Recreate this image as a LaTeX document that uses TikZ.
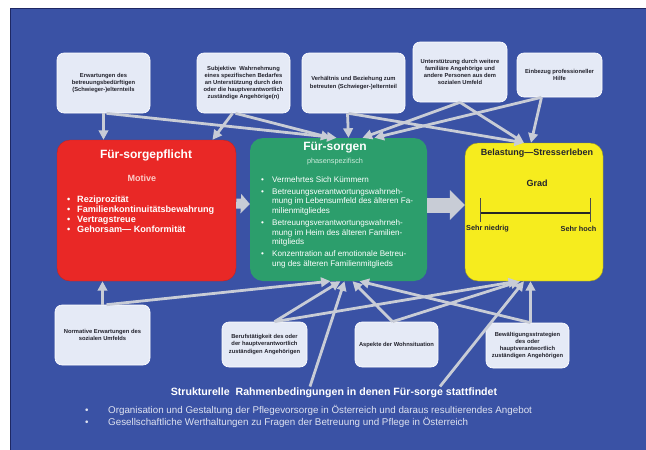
\documentclass[tikz,border=0pt]{standalone}
\usepackage{fontspec}
\setmainfont{Liberation Sans}
\usetikzlibrary{arrows.meta}
\definecolor{bgblue}{RGB}{58,82,165}
\definecolor{bgdark}{RGB}{30,40,100}
\definecolor{boxfill}{RGB}{229,234,246}
\definecolor{connc}{RGB}{200,204,214}
\definecolor{redbox}{RGB}{233,40,38}
\definecolor{greenbox}{RGB}{44,158,108}
\definecolor{yellowbox}{RGB}{246,236,30}
\definecolor{darktext}{RGB}{35,35,45}
\definecolor{bottomtext}{RGB}{222,226,240}
\begin{document}
\begin{tikzpicture}[x=1pt,y=-1pt,
  smallbox/.style={draw=white, line width=0.6pt, fill=boxfill, rounded corners=7pt, align=center,
    font=\bfseries\fontsize{5.8}{7.2}\selectfont, text=darktext, inner sep=1pt},
  mainbox/.style={rounded corners=13pt, inner sep=0pt},
  conn/.style={draw=connc, line width=2.8pt, -{Triangle[width=9.5pt,length=9.5pt]}}
]
\useasboundingbox (0,0) rectangle (646,450);
\fill[white] (0,0) rectangle (646,450);
\fill[bgblue] (10,8) rectangle (646,450);
\draw[bgdark, line width=1pt] (10,450) -- (10,8) -- (646,8);

% top boxes
\node[smallbox, minimum width=93pt, minimum height=60pt] (t1) at (103.5,83)
  {Erwartungen des\\betreuungsbedürftigen\\(Schwieger-)elternteils};
\node[smallbox, minimum width=93pt, minimum height=60pt] (t2) at (243.5,83)
  {Subjektive\ \ Wahrnehmung\\eines spezifischen Bedarfes\\an Unterstützung durch den\\oder die hauptverantwortlich\\zuständige Angehörige(n)};
\node[smallbox, minimum width=103pt, minimum height=60pt] (t3) at (353.5,83)
  {Verhältnis und Beziehung zum\\betreuten (Schwieger-)elternteil};
\node[smallbox, minimum width=94pt, minimum height=60pt] (t4) at (460,72)
  {Unterstützung durch weitere\\familiäre Angehörige und\\andere Personen aus dem\\sozialen Umfeld};
\node[smallbox, minimum width=85pt, minimum height=44pt] (t5) at (559.5,75)
  {Einbezug professioneller\\Hilfe};

% main boxes
\node[mainbox, fill=redbox, draw=redbox!85!black, minimum width=179pt, minimum height=141pt] (red) at (146.5,210.5) {};
\node[mainbox, fill=greenbox, minimum width=177pt, minimum height=143pt] (green) at (338.5,209.5) {};
\node[mainbox, fill=yellowbox, draw=yellowbox!70!black, minimum width=138pt, minimum height=138pt] (yellow) at (534,212) {};

% red content
\node[text=white, font=\bfseries\fontsize{12}{14}\selectfont] (redtitle) at (146,155.5) {Für-sorgepflicht};
\node[text={rgb,255:red,252;green,205;blue,200}, font=\bfseries\fontsize{9}{11}\selectfont] (motive) at (142,178) {Motive};
\node[text=white, font=\bfseries\fontsize{9.1}{10}\selectfont, align=left, anchor=north west, inner sep=0pt] (redlist) at (67,195.5)
  {\makebox[10pt][l]{\textbullet}Reziprozität\\
   \makebox[10pt][l]{\textbullet}Familienkontinuitätsbewahrung\\
   \makebox[10pt][l]{\textbullet}Vertragstreue\\
   \makebox[10pt][l]{\textbullet}Gehorsam— Konformität};

% green content
\node[text=white, font=\bfseries\fontsize{12}{14}\selectfont] (greentitle) at (335,148) {Für-sorgen};
\node[text={rgb,255:red,205;green,235;blue,220}, font=\fontsize{7.3}{8}\selectfont] (phase) at (335,162) {phasenspezifisch};
\node[text=white, font=\fontsize{8.1}{9.7}\selectfont, align=left, anchor=north west, inner sep=0pt] (greenlist) at (261,176)
  {\makebox[11pt][l]{\textbullet}Vermehrtes Sich Kümmern\\[2.3pt]
   \makebox[11pt][l]{\textbullet}Betreuungsverantwortungswahrneh-\\
   \hspace*{11pt}mung im Lebensumfeld des älteren Fa-\\
   \hspace*{11pt}milienmitgliedes\\[2.3pt]
   \makebox[11pt][l]{\textbullet}Betreuungsverantwortungswahrneh-\\
   \hspace*{11pt}mung im Heim des älteren Familien-\\
   \hspace*{11pt}mitglieds\\[2.3pt]
   \makebox[11pt][l]{\textbullet}Konzentration auf emotionale Betreu-\\
   \hspace*{11pt}ung des älteren Familienmitglieds};

% yellow content
\node[text=darktext, font=\bfseries\fontsize{9}{11}\selectfont] (ytitle) at (537,153) {Belastung—Stresserleben};
\node[text=darktext, font=\bfseries\fontsize{9}{11}\selectfont] (grad) at (537,183) {Grad};
\coordinate (sl) at (480,213);
\coordinate (sr) at (590,213);
\draw[black!85, line width=2pt] (sl) -- (sr);
\draw[black!70, line width=0.7pt] (480,198) -- (480,222);
\draw[black!70, line width=0.7pt] (590,198) -- (590,222);
\node[text=darktext, font=\bfseries\fontsize{7.3}{9}\selectfont] (low) at (487.5,228.5) {Sehr niedrig};
\node[text=darktext, font=\bfseries\fontsize{7.3}{9}\selectfont] (high) at (578.5,228.5) {Sehr hoch};

% block arrows
\draw[connc, line width=10pt, -{Triangle[width=19pt,length=9pt]}] ([yshift=7pt]red.east) -- ([yshift=5.5pt]green.west);
\draw[connc, line width=15pt, -{Triangle[width=29pt,length=15pt]}] ([yshift=4.5pt]green.east) -- ([yshift=7pt]yellow.west);

% bottom boxes
\node[smallbox, minimum width=95pt, minimum height=60pt] (b1) at (102.5,335)
  {Normative Erwartungen des\\sozialen Umfelds};
\node[smallbox, minimum width=85pt, minimum height=45pt] (b2) at (264.5,344.5)
  {Berufstätigkeit des oder\\der hauptverantwortlich\\zuständigen Angehörigen};
\node[smallbox, minimum width=83pt, minimum height=45pt] (b3) at (396.5,344.5)
  {Aspekte der Wohnsituation};
\node[smallbox, minimum width=83pt, minimum height=45pt] (b4) at (527.5,345.5)
  {Bewältigungsstrategien\\des oder\\hauptverantwortlich\\zuständigen Angehörigen};

% bottom text
\node[text=white, font=\bfseries\fontsize{10.6}{12}\selectfont] (struct) at (334,393)
  {Strukturelle\ \ Rahmenbedingungen in denen Für-sorge stattfindet};
\node[text=bottomtext, font=\fontsize{9.8}{12.5}\selectfont, align=left, anchor=west, inner sep=0pt] (blist) at (85,416.5)
  {\makebox[23pt][l]{\textbullet}Organisation und Gestaltung der Pflegevorsorge in Österreich und daraus resultierendes Angebot\\
   \makebox[23pt][l]{\textbullet}Gesellschaftliche Werthaltungen zu Fragen der Betreuung und Pflege in Österreich};

% top connectors
\draw[conn] (t1.south) -- (t1.south |- red.north);
\draw[conn] ([xshift=3pt]t1.south) -- ([xshift=-2pt]green.north);
\draw[conn] ([xshift=-11pt]t2.south) -- ([xshift=66pt]red.north);
\draw[conn] ([xshift=-8pt]t2.south) -- ([xshift=-8pt]green.north);
\draw[conn] ([xshift=-6pt]t3.south) -- ([xshift=10pt]green.north);
\draw[conn] ([xshift=-5pt]t3.south) -- ([xshift=-10pt]yellow.north);
\draw[conn] (t4.south) -- ([xshift=24pt]green.north);
\draw[conn] (t4.south) -- ([xshift=-10pt]yellow.north);
\draw[conn] ([xshift=-18pt]t5.south) -- ([xshift=36pt]green.north);
\draw[conn] ([xshift=-18pt]t5.south) -- ([xshift=-3pt]yellow.north);

% bottom connectors
\draw[conn] (b1.north) -- (b1.north |- red.south);
\draw[conn] ([xshift=4pt]b1.north) -- ([xshift=-8pt]green.south);
\draw[conn] ([xshift=10pt]b2.north) -- ([xshift=2pt]green.south);
\draw[conn] ([xshift=10pt]b2.north) -- ([xshift=-16pt]yellow.south);
\draw[conn] ([xshift=-4pt]b3.north) -- ([xshift=14pt]green.south);
\draw[conn] ([xshift=-4pt]b3.north) -- ([xshift=-14pt]yellow.south);
\draw[conn] ([xshift=3pt]b4.north) -- ([xshift=3pt]b4.north |- yellow.south);
\draw[conn] ([xshift=3pt]b4.north) -- ([xshift=21pt]green.south);
\draw[conn] ([xshift=-24pt,yshift=-2pt]struct.north) -- ([xshift=6pt]green.south);
\draw[conn] ([xshift=106pt,yshift=-2pt]struct.north) -- ([xshift=-10pt]yellow.south);
\end{tikzpicture}
\end{document}
